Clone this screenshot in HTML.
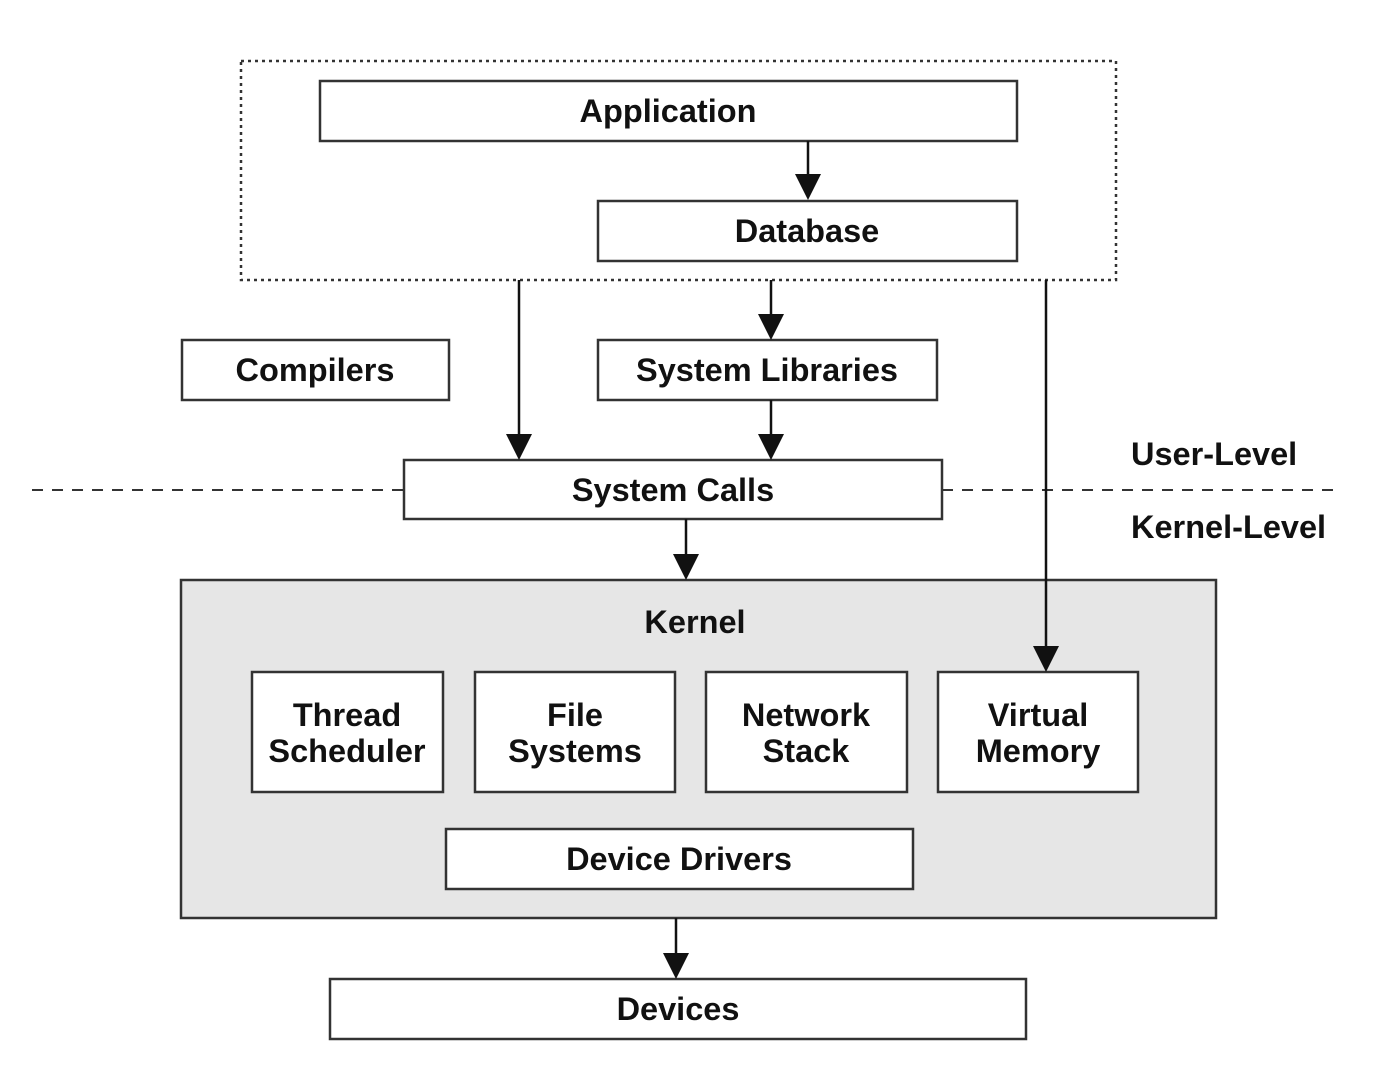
<!DOCTYPE html>
<html><head><meta charset="utf-8"><style>html,body{margin:0;padding:0;background:#fff}</style></head>
<body>
<svg width="1384" height="1068" viewBox="0 0 1384 1068" xmlns="http://www.w3.org/2000/svg" font-family="Liberation Sans, sans-serif" font-weight="bold" font-size="32.5" fill="#111">
<g stroke="#333" stroke-width="2.5" fill="#fff">
<rect x="241" y="61" width="875" height="219" fill="none" stroke-dasharray="3,4"/>
<line x1="32" y1="490" x2="404" y2="490" stroke-dasharray="11,9" stroke-width="2"/>
<line x1="942" y1="490" x2="1335" y2="490" stroke-dasharray="11,9" stroke-width="2"/>
<rect x="181" y="580" width="1035" height="338" fill="#e6e6e6"/>
<rect x="320" y="81" width="697" height="60"/>
<rect x="598" y="201" width="419" height="60"/>
<rect x="182" y="340" width="267" height="60"/>
<rect x="598" y="340" width="339" height="60"/>
<rect x="404" y="460" width="538" height="59"/>
<rect x="252" y="672" width="191" height="120"/>
<rect x="475" y="672" width="200" height="120"/>
<rect x="706" y="672" width="201" height="120"/>
<rect x="938" y="672" width="200" height="120"/>
<rect x="446" y="829" width="467" height="60"/>
<rect x="330" y="979" width="696" height="60"/>
</g>
<g stroke="#111" stroke-width="2.5">
<line x1="808" y1="141" x2="808" y2="176"/>
<line x1="519" y1="280" x2="519" y2="436"/>
<line x1="771" y1="280" x2="771" y2="316"/>
<line x1="771" y1="400" x2="771" y2="436"/>
<line x1="1046" y1="280" x2="1046" y2="648"/>
<line x1="686" y1="519" x2="686" y2="556"/>
<line x1="676" y1="918" x2="676" y2="954"/>
</g>
<g fill="#111">
<path d="M795,174 L821,174 L808,200 Z"/>
<path d="M506,434 L532,434 L519,460 Z"/>
<path d="M758,314 L784,314 L771,340 Z"/>
<path d="M758,434 L784,434 L771,460 Z"/>
<path d="M1033,646 L1059,646 L1046,672 Z"/>
<path d="M673,554 L699,554 L686,580 Z"/>
<path d="M663,953 L689,953 L676,979 Z"/>
</g>
<g text-anchor="middle">
<text x="668" y="122">Application</text>
<text x="807" y="242">Database</text>
<text x="315" y="381">Compilers</text>
<text x="767" y="381">System Libraries</text>
<text x="673" y="501">System Calls</text>
<text x="695" y="633">Kernel</text>
<text x="347" y="726">Thread</text><text x="347" y="762">Scheduler</text>
<text x="575" y="726">File</text><text x="575" y="762">Systems</text>
<text x="806" y="726">Network</text><text x="806" y="762">Stack</text>
<text x="1038" y="726">Virtual</text><text x="1038" y="762">Memory</text>
<text x="679" y="870">Device Drivers</text>
<text x="678" y="1020">Devices</text>
</g>
<text x="1131" y="465">User-Level</text>
<text x="1131" y="538">Kernel-Level</text>
</svg>
</body></html>
